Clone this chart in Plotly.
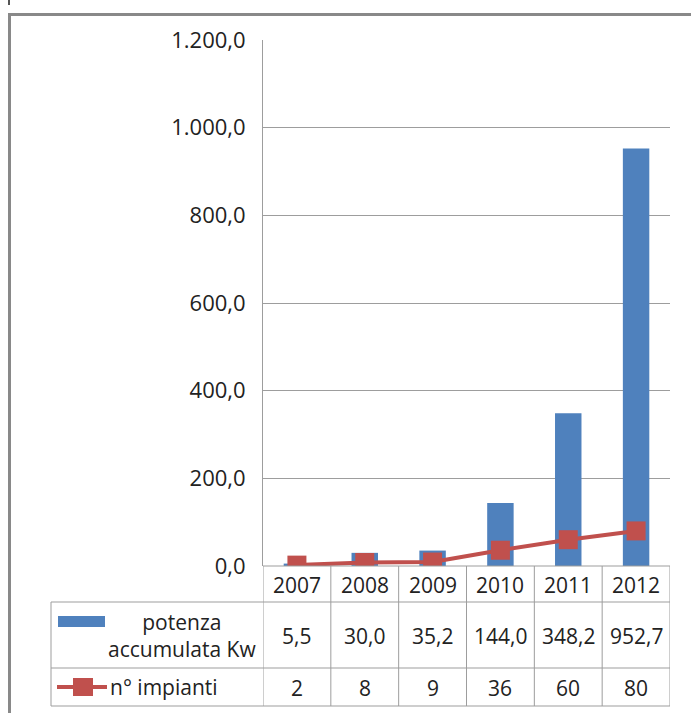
import plotly.graph_objects as go

# ---- data ----
years = ["2007", "2008", "2009", "2010", "2011", "2012"]
potenza = [5.5, 30.0, 35.2, 144.0, 348.2, 952.7]
impianti = [2, 8, 9, 36, 60, 80]
series1_name = "potenza<br>accumulata Kw"
series2_name = "n° impianti"
y_ticks = [0, 200, 400, 600, 800, 1000, 1200]

W, H = 691, 713
BLUE = "#4F81BD"
RED = "#C0504D"
GRID = "#9d9d9d"
TXT = "#222222"
FONT = "Open Sans"
FS = 21

def px(x):
    return x / W

def py(y):
    return 1 - y / H

xs = list(range(len(years)))

fig = go.Figure()
fig.add_trace(go.Bar(x=xs, y=potenza, width=0.39, marker=dict(color=BLUE, line=dict(width=0)),
                     name="potenza accumulata Kw"))
fig.add_trace(go.Scatter(x=xs, y=impianti, mode="lines+markers", name=series2_name,
                         line=dict(color=RED, width=4),
                         marker=dict(symbol="square", size=19, color=RED)))

PL, PR, PT, PB = 263, 670, 40, 566
ROW1, ROW2, ROW3 = 602, 668, 706
TL = 51

fig.update_layout(
    template="none",
    width=W, height=H,
    margin=dict(l=0, r=0, t=0, b=0, pad=0, autoexpand=False),
    paper_bgcolor="white", plot_bgcolor="white",
    showlegend=False,
    separators=",.",
    font=dict(family=FONT, size=FS, color=TXT),
    xaxis=dict(domain=[px(PL), px(PR)], range=[-0.5, len(years) - 0.5], automargin=False,
               showticklabels=False, showgrid=False, zeroline=False, showline=False, ticks="",
               fixedrange=True),
    yaxis=dict(domain=[py(PB), py(PT)], range=[0, 1200], tickvals=y_ticks, tickformat=",.1f",
               automargin=False, fixedrange=True,
               showgrid=True, gridcolor=GRID, gridwidth=1, zeroline=False,
               showline=True, linecolor=GRID, linewidth=1,
               ticks="outside", ticklen=12, tickcolor="rgba(0,0,0,0)",
               tickfont=dict(family=FONT, size=22, color=TXT)),
)

shapes = []
# outer chart border
shapes.append(dict(type="line", xref="paper", yref="paper", x0=px(9.5), x1=px(9.5), y0=py(13), y1=py(H),
                   line=dict(color="#898989", width=3)))
shapes.append(dict(type="line", xref="paper", yref="paper", x0=px(8), x1=1, y0=py(14.5), y1=py(14.5),
                   line=dict(color="#898989", width=3)))
shapes.append(dict(type="line", xref="paper", yref="paper", x0=px(9), x1=px(9), y0=py(0), y1=py(5),
                   line=dict(color="#555555", width=2)))

# table lines
for xb in [i - 0.5 for i in range(len(years) + 1)]:
    shapes.append(dict(type="line", xref="x", yref="paper", x0=xb, x1=xb, y0=py(PB), y1=py(ROW3),
                       line=dict(color=GRID, width=1)))
shapes.append(dict(type="line", xref="x", yref="paper", x0=-0.5, x1=len(years) - 0.5, y0=py(PB), y1=py(PB),
                   line=dict(color=GRID, width=1)))
for yb in [ROW1, ROW2, ROW3]:
    shapes.append(dict(type="line", xref="paper", yref="paper", x0=px(TL), x1=px(PR), y0=py(yb), y1=py(yb),
                       line=dict(color=GRID, width=1)))
shapes.append(dict(type="line", xref="paper", yref="paper", x0=px(TL), x1=px(TL), y0=py(ROW1), y1=py(ROW3),
                   line=dict(color=GRID, width=1)))

# legend keys
shapes.append(dict(type="rect", xref="paper", yref="paper", x0=px(58), x1=px(105), y0=py(616), y1=py(627),
                   fillcolor=BLUE, line=dict(width=0)))
shapes.append(dict(type="line", xref="paper", yref="paper", x0=px(57), x1=px(107), y0=py(687), y1=py(687),
                   line=dict(color=RED, width=4)))
shapes.append(dict(type="rect", xref="paper", yref="paper", x0=px(73), x1=px(93), y0=py(678), y1=py(696),
                   fillcolor=RED, line=dict(width=0)))

ann = []
for i, yr in enumerate(years):
    ann.append(dict(x=i, y=py((PB + ROW1) / 2 + 1), xref="x", yref="paper", text=yr, showarrow=False,
                    xanchor="center", yanchor="middle"))
    ann.append(dict(x=i, y=py((ROW1 + ROW2) / 2 + 1), xref="x", yref="paper",
                    text=f"{potenza[i]:.1f}".replace(".", ","), showarrow=False,
                    xanchor="center", yanchor="middle"))
    ann.append(dict(x=i, y=py((ROW2 + ROW3) / 2 + 1), xref="x", yref="paper",
                    text=str(impianti[i]), showarrow=False, xanchor="center", yanchor="middle"))

ann.append(dict(x=px(182), y=py(635), xref="paper", yref="paper", text=series1_name, showarrow=False,
                xanchor="center", yanchor="middle", align="center"))
ann.append(dict(x=px(108), y=py(687), xref="paper", yref="paper", text=series2_name, showarrow=False,
                xanchor="left", yanchor="middle"))

fig.update_layout(shapes=shapes, annotations=ann)
fig.write_html(
    "out.html",
    config={"displayModeBar": False, "responsive": False},
    post_script=(
        "var de=document.documentElement, b=document.body;"
        "de.style.margin='0';de.style.padding='0';de.style.overflow='hidden';"
        "b.style.margin='0';b.style.padding='0';b.style.overflow='hidden';"
        "var g=document.getElementById('{plot_id}');"
        "g.style.position='fixed';g.style.left='0px';g.style.top='0px';"
    ),
)
